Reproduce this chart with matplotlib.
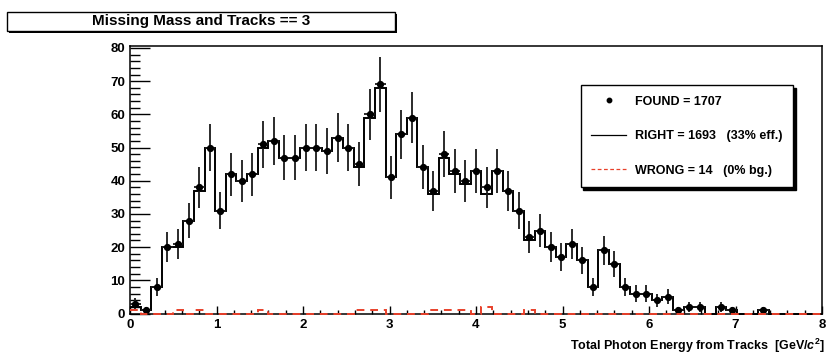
import numpy as np
import matplotlib
matplotlib.use('Agg')
import matplotlib.pyplot as plt
from matplotlib.lines import Line2D
from matplotlib.patches import Rectangle
from matplotlib.ticker import MultipleLocator

###############################################################################
## histogram contents, 65 bins between 0 and 8
xlo, xhi, nbins = 0.0, 8.0, 65
found = np.array([3, 1, 8, 20, 21, 28, 38, 50, 31, 42,
                  40, 42, 51, 52, 47, 47, 50, 50, 49, 53,
                  50, 45, 60, 69, 41, 54, 59, 44, 37, 48,
                  43, 40, 43, 38, 43, 37, 31, 23, 25, 20,
                  17, 21, 16, 8, 19, 15, 8, 6, 6, 4,
                  5, 1, 2, 2, 0, 2, 1, 0, 0, 1,
                  0, 0, 0, 0, 0])
right = np.array([2, 1, 8, 20, 20, 28, 37, 50, 31, 42,
                  40, 42, 50, 52, 47, 47, 50, 50, 49, 53,
                  50, 44, 59, 68, 41, 54, 59, 44, 36, 47,
                  42, 39, 43, 36, 43, 37, 31, 22, 25, 20,
                  17, 21, 16, 8, 19, 15, 8, 6, 6, 4,
                  5, 1, 2, 2, 0, 2, 1, 0, 0, 1,
                  0, 0, 0, 0, 0])
wrong = np.array([1, 0, 0, 0, 1, 0, 1, 0, 0, 0,
                  0, 0, 1, 0, 0, 0, 0, 0, 0, 0,
                  0, 1, 1, 1, 0, 0, 0, 0, 1, 1,
                  1, 1, 0, 2, 0, 0, 0, 1, 0, 0,
                  0, 0, 0, 0, 0, 0, 0, 0, 0, 0,
                  0, 0, 0, 0, 0, 0, 0, 0, 0, 0,
                  0, 0, 0, 0, 0])
eff_txt = '(33% eff.)'
bg_txt = '(0% bg.)'
title_txt = 'Missing Mass and Tracks == 3'
xlabel_txt = r'Total Photon Energy from Tracks  [GeV/$\mathit{c}^{2}$]'
###############################################################################
plt.rcParams['font.family'] = ['Liberation Sans', 'DejaVu Sans']
plt.rcParams['font.weight'] = 'bold'
plt.rcParams['mathtext.fontset'] = 'custom'
plt.rcParams['mathtext.rm'] = 'Liberation Sans:bold'
plt.rcParams['mathtext.it'] = 'Liberation Sans:italic:bold'
plt.rcParams['mathtext.bf'] = 'Liberation Sans:bold'

W, H = 826, 356
fig = plt.figure(figsize=(W/100, H/100), dpi=100)
ax = fig.add_axes([130/W, 1-313.5/H, 692/W, (313.5-46)/H])

edges = np.linspace(xlo, xhi, nbins+1)
centers = 0.5*(edges[1:]+edges[:-1])
hw = 0.5*(edges[1]-edges[0])
red = '#e8402a'

ax.stairs(right, edges, baseline=None, color='k', lw=1.4, clip_on=False, zorder=3)
m = found > 0
ax.errorbar(centers[m], found[m], yerr=np.sqrt(found[m]), xerr=hw, fmt='o',
            color='k', ms=4.2, ecolor='#1a1a1a', elinewidth=1.3, capsize=0, zorder=4)
ax.stairs(wrong, edges, baseline=None, color=red, lw=1.4, ls=(0, (4, 3)),
          clip_on=False, zorder=5)

ax.set_xlim(xlo, xhi)
ax.set_ylim(0, 80.6)
ax.xaxis.set_major_locator(MultipleLocator(1))
ax.xaxis.set_minor_locator(MultipleLocator(0.2))
ax.yaxis.set_major_locator(MultipleLocator(10))
ax.yaxis.set_minor_locator(MultipleLocator(2))
ax.tick_params(axis='y', which='major', direction='in', length=14.4, width=1.0, labelsize=9.5, pad=3.5)
ax.tick_params(axis='y', which='minor', direction='in', length=7.2, width=1.0)
ax.tick_params(axis='x', which='major', direction='in', length=5.8, width=1.0, labelsize=9.5, pad=4)
ax.tick_params(axis='x', which='minor', direction='in', length=2.9, width=1.0)
for lab in ax.get_xticklabels()+ax.get_yticklabels():
    lab.set_fontweight('bold')
for sp in ax.spines.values():
    sp.set_linewidth(1.1)

## x axis title, right aligned under the frame
fig.text(825/W, 1-346/H, xlabel_txt, ha='right', va='center', fontsize=9, fontweight='bold')

## legend
handles = [Line2D([], [], marker='o', ls='none', color='k', ms=3.2),
           Line2D([], [], color='k', lw=0.9),
           Line2D([], [], color=red, lw=0.9, ls=(0, (3, 2)))]
labels = ['FOUND = %d' % found.sum(),
          'RIGHT = %d   %s' % (right.sum(), eff_txt),
          'WRONG = %d   %s' % (wrong.sum(), bg_txt)]
leg = ax.legend(handles, labels, loc='upper left',
                bbox_to_anchor=(580.7/W, 1-85/H), bbox_transform=fig.transFigure,
                frameon=True, fancybox=False, shadow={'color': 'k', 'alpha': 1},
                edgecolor='k', framealpha=1, prop={'weight': 'bold', 'size': 9},
                handlelength=2.8, handletextpad=0.7, labelspacing=1.8,
                borderpad=0.85, borderaxespad=0)
leg.get_frame().set_linewidth(1.0)

## title box with shadow
bx, by, bw, bh = 7.3/W, 1-30.7/H, (395-7.3)/W, 19/H
fig.add_artist(Rectangle((bx+2/W, by-2/H), bw, bh, transform=fig.transFigure,
                         facecolor='k', edgecolor='k', lw=0))
fig.add_artist(Rectangle((bx, by), bw, bh, transform=fig.transFigure,
                         facecolor='white', edgecolor='k', lw=1.0))
fig.text(201/W, 1-21.2/H, title_txt, ha='center', va='center', fontsize=11, fontweight='bold')

fig.savefig('out.png', dpi=100)
